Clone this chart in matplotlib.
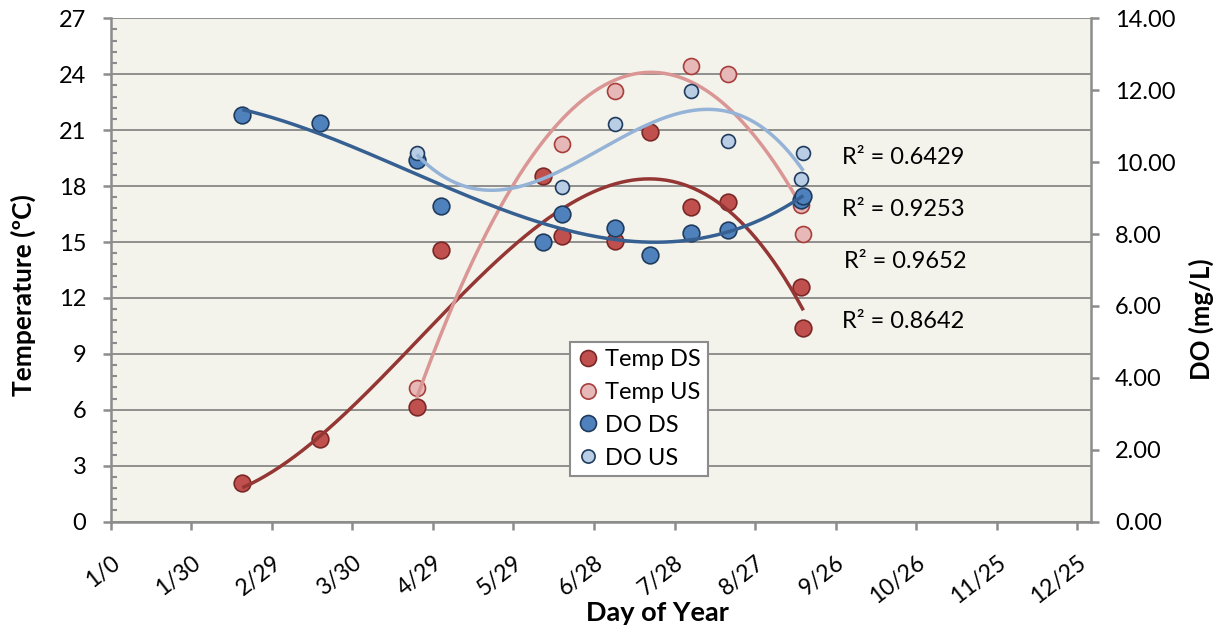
import numpy as np
import matplotlib
matplotlib.use("Agg")
import matplotlib.pyplot as plt
from matplotlib.lines import Line2D
from matplotlib.ticker import MultipleLocator, FixedLocator

plt.rcParams['font.family'] = ['Lato', 'DejaVu Sans']

# Sampling days (day of year) and measurements
temp_ds_day = [49, 78, 114, 123, 161, 168, 188, 201, 216, 230, 257, 258]
temp_ds = [2.06, 4.44, 6.14, 14.57, 18.54, 15.32, 15.07, 20.90, 16.86, 17.16, 12.60, 10.37]

temp_us_day = [114, 168, 188, 216, 230, 257, 258]
temp_us = [7.16, 20.24, 23.10, 24.46, 24.01, 16.99, 15.43]

do_ds_day = [49, 78, 114, 123, 161, 168, 188, 201, 216, 230, 257, 258]
do_ds = [11.31, 11.08, 10.06, 8.79, 7.79, 8.55, 8.16, 7.42, 8.04, 8.11, 8.95, 9.06]

do_us_day = [114, 168, 188, 216, 230, 257, 258]
do_us = [10.26, 9.31, 11.07, 11.99, 10.60, 9.54, 10.25]

r2_labels = ["R² = 0.6429", "R² = 0.9253", "R² = 0.9652", "R² = 0.8642"]

x_ticks = list(range(0, 361, 30))
x_tick_labels = ["1/0", "1/30", "2/29", "3/30", "4/29", "5/29", "6/28",
                 "7/28", "8/27", "9/26", "10/26", "11/25", "12/25"]
temp_ticks = list(range(0, 28, 3))
do_ticks = [0, 2, 4, 6, 8, 10, 12, 14]

# Styling
BG = '#F3F2EB'
GRID = '#878787'
SPINE = '#8C8C8C'

styles = {
    'Temp DS': dict(face='#C0504D', edge='#7A2826', ms=12.0, trend='#943634', order=3),
    'Temp US': dict(face='#E6B9B8', edge='#A83E3B', ms=11.5, trend='#DA9694', order=2),
    'DO DS':   dict(face='#4F81BD', edge='#1F3B5E', ms=12.0, trend='#376092', order=3),
    'DO US':   dict(face='#B9CDE5', edge='#1F3B5E', ms=10.0, trend='#95B3D7', order=3),
}


def trend(ax, days, vals, color, order):
    """Least-squares polynomial trendline over the sampled range."""
    coef = np.polyfit(days, vals, order)
    xs = np.linspace(min(days), max(days), 300)
    ax.plot(xs, np.polyval(coef, xs), color=color, lw=2.5,
            solid_capstyle='butt', zorder=4)


fig = plt.figure(figsize=(12.22, 6.28), dpi=100)
ax1 = fig.add_axes([0.0906, 0.1693, 0.8019, 0.8016])
ax2 = ax1.twinx()

ax1.set_facecolor(BG)
ax2.patch.set_visible(False)

# Primary axis: temperature
primary = [('Temp DS', temp_ds_day, temp_ds), ('Temp US', temp_us_day, temp_us)]
for name, d, v in primary:
    s = styles[name]
    ax1.plot(d, v, 'o', ms=s['ms'], mfc=s['face'], mec=s['edge'], mew=1.2,
             zorder=3)
for name, d, v in primary:
    trend(ax1, d, v, styles[name]['trend'], styles[name]['order'])

# Secondary axis: dissolved oxygen
secondary = [('DO DS', do_ds_day, do_ds), ('DO US', do_us_day, do_us)]
for name, d, v in secondary:
    s = styles[name]
    ax2.plot(d, v, 'o', ms=s['ms'], mfc=s['face'], mec=s['edge'], mew=1.2,
             zorder=3)
for name, d, v in secondary:
    trend(ax2, d, v, styles[name]['trend'], styles[name]['order'])

# Axes limits and ticks
ax1.set_xlim(0, 365)
ax1.set_ylim(0, 27)
ax2.set_ylim(0, 14)

ax1.xaxis.set_major_locator(FixedLocator(x_ticks))
ax1.set_xticklabels(x_tick_labels, rotation=38, ha='right', va='top',
                    rotation_mode='anchor', fontsize=16.5)
ax1.set_yticks(temp_ticks)
ax1.set_yticklabels([str(t) for t in temp_ticks], fontsize=17)
ax1.yaxis.set_minor_locator(MultipleLocator(0.6))
ax2.set_yticks(do_ticks)
ax2.set_yticklabels([f"{t:.2f}" for t in do_ticks], fontsize=17)

ax1.tick_params(axis='x', which='major', direction='out', length=6,
                width=1.8, color=SPINE, pad=16)
ax1.tick_params(axis='y', which='major', direction='out', length=5.5,
                width=1.8, color=SPINE, pad=12)
ax1.tick_params(axis='y', which='minor', direction='in', length=4.5,
                width=1.5, color=SPINE)
ax2.tick_params(axis='y', which='major', direction='out', length=5.5,
                width=1.8, color=SPINE, pad=12)
ax2.tick_params(axis='x', which='both', length=0)

ax1.grid(axis='y', which='major', color=GRID, lw=1.3, zorder=1)
ax1.set_axisbelow(True)

for ax in (ax1, ax2):
    for sp in ax.spines.values():
        sp.set_color(SPINE)
        sp.set_linewidth(1.8)
    ax.spines['top'].set_visible(False)
ax1.spines['right'].set_visible(False)
ax2.spines['left'].set_visible(False)
ax2.spines['bottom'].set_visible(False)

# Axis titles
fig.text(0.0188, 1 - 295 / 628, 'Temperature (ºC)', rotation=90,
         ha='center', va='center', fontsize=19, fontweight='bold')
fig.text(0.9834, 1 - 319 / 628, 'DO (mg/L)', rotation=90,
         ha='center', va='center', fontsize=18.5, fontweight='bold')
fig.text(657.8 / 1222, 1 - 613 / 628, 'Day of Year',
         ha='center', va='center', fontsize=19.5, fontweight='bold')

# R-squared labels of the trendlines
r2_pos = [(272.4, 19.51), (272.4, 16.72), (273.3, 13.98), (272.4, 10.73)]
for (xd, yd), lab in zip(r2_pos, r2_labels):
    ax1.text(xd, yd, lab, ha='left', va='center', fontsize=17, zorder=6)

# Legend
handles = []
for name in ['Temp DS', 'Temp US', 'DO DS', 'DO US']:
    s = styles[name]
    handles.append(Line2D([], [], ls='none', marker='o',
                          ms=s['ms'] - 0.5, mfc=s['face'], mec=s['edge'],
                          mew=1.2, label=name))
leg = ax2.legend(handles=handles, loc='upper left',
                 bbox_to_anchor=(570 / 1222, 1 - 342 / 628),
                 bbox_transform=fig.transFigure, fontsize=17,
                 frameon=True, fancybox=False, borderpad=0.3,
                 labelspacing=0.5, handlelength=0.9, handletextpad=0.3,
                 borderaxespad=0)
leg.get_frame().set_edgecolor(SPINE)
leg.get_frame().set_linewidth(1.5)
leg.get_frame().set_facecolor('white')
leg.get_frame().set_alpha(1)
leg.set_zorder(10)

fig.savefig('out.png', dpi=100)
